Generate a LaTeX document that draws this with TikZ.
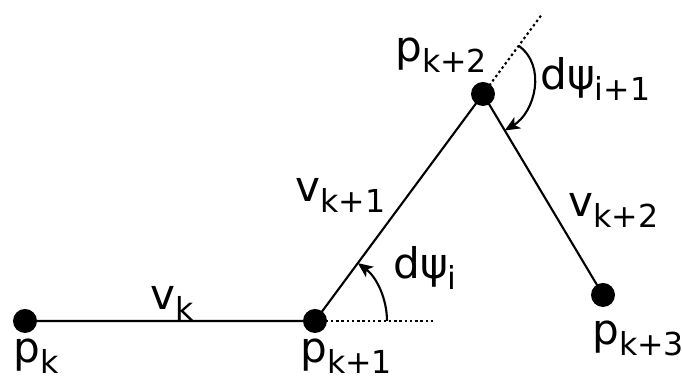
\documentclass[tikz,border=0pt]{standalone}
\usepackage{fontspec}
\setmainfont{DejaVu Sans}
\usetikzlibrary{arrows.meta,calc}
\newcommand{\ix}[1]{\raisebox{-6pt}{\fontsize{18}{18}\selectfont #1}}
\begin{document}
\begin{tikzpicture}[
  font=\fontsize{24}{28}\selectfont,
  pt/.style={circle,fill=black,inner sep=0pt,minimum size=4.8mm},
  seg/.style={line width=1.2pt},
  ext/.style={line width=1.2pt,dash pattern=on 1.4pt off 1.6pt},
  arc/.style={line width=1.2pt,-{Stealth[length=3mm,width=2.6mm,inset=0.8mm]}},
  lbl/.style={anchor=base west,inner sep=0pt},
]
\useasboundingbox (0,0) rectangle (13.64,7.6);

\coordinate (pk) at (0.5,1.18);
\coordinate (pk1) at (6.3,1.18);
\coordinate (pk2) at (9.66,5.72);
\coordinate (pk3) at (12.06,1.70);
\coordinate (e1) at (8.66,1.18);
\coordinate (e2) at ($(pk2)!-1.95cm!(pk1)$);

% segments and extensions
\draw[seg] (pk) -- (pk1) -- (pk2) -- (pk3);
\draw[ext] (pk1) -- (e1);
\draw[ext] (pk2) -- (e2);

% angles
\draw[arc] ([shift={(0:1.44)}]pk1) arc[start angle=0,end angle=53.5,radius=1.44];
\coordinate (a1) at ($(pk2)!-1.2cm!(pk1)$);
\coordinate (a2) at ($(pk2)!0.85cm!(pk3)$);
\draw[arc] (a1) .. controls +(-36:0.7) and +(31:0.7) .. (a2);

% points
\foreach \p in {pk,pk1,pk2,pk3}
  \node[pt] (n\p) at (\p) {};

% labels
\node[lbl] (lpk) at (0.26,0.34) {p\ix{k}};
\node[lbl] (lpk1) at (6.00,0.34) {p\ix{k+1}};
\node[lbl] (lpk2) at (7.90,6.36) {p\ix{k+2}};
\node[lbl] (lpk3) at (11.84,0.70) {p\ix{k+3}};
\node[lbl] (lvk) at (3.00,1.40) {v\ix{k}};
\node[lbl] (lvk1) at (5.90,3.56) {v\ix{k+1}};
\node[lbl] (lvk2) at (11.36,3.26) {v\ix{k+2}};
\node[lbl] (ldi) at (7.86,2.02) {dψ\ix{i}};
\node[lbl] (ldi1) at (10.80,5.80) {dψ\ix{i+1}};
\end{tikzpicture}
\end{document}
